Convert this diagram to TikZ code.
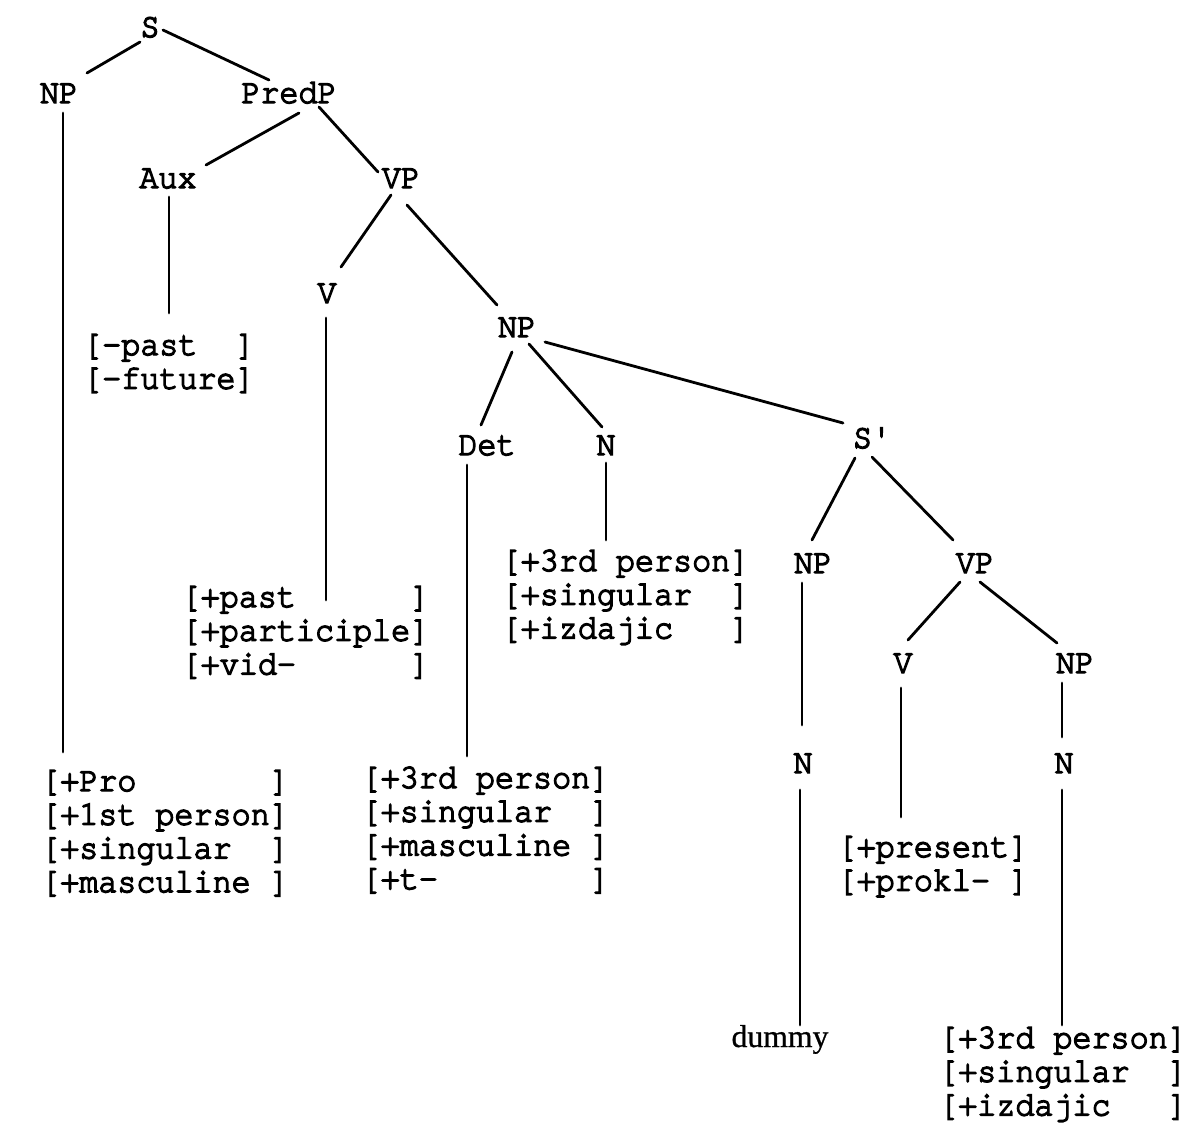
\documentclass[tikz,border=0pt]{standalone}
\usepackage{fontspec}
\setmonofont{texgyrecursor-regular.otf}[FakeBold=4, FakeStretch=0.92]
\newfontfamily\wordfont{Liberation Serif}[FakeBold=0.8]
\usetikzlibrary{calc}
% typewriter face used for all category labels and feature bundles
\newcommand\tw{\ttfamily\fontsize{34.5}{33.7}\selectfont}
% a feature bundle: rows stacked with the baseline of the first row as reference
\newcommand\featrows[1]{\vtop{\tw\lineskiplimit=-100pt #1}}
\newcommand\frow[1]{\hbox{#1}}

\begin{document}
\begin{tikzpicture}[x=1pt,y=-1pt,
  cat/.style={anchor=base, inner sep=0pt, font=\tw},
  feat/.style={anchor=base west, inner sep=0pt},
  branch/.style={line width=2.8pt, line cap=round}]
\useasboundingbox (0,0) rectangle (1189,1130);

% category labels
\node[cat] (s)     at (150,37)   {S};
\node[cat] (np1)   at (59,103)   {NP};
\node[cat] (predp) at (289,103)  {PredP};
\node[cat] (aux)   at (168,188)  {Aux};
\node[cat] (vp1)   at (401,188)  {VP};
\node[cat] (v1)    at (327,303)  {V};
\node[cat] (np2)   at (517,337)  {NP};
\node[cat] (det)   at (487,455)  {Det};
\node[cat] (n1)    at (606,455)  {N};
\node[cat] (sbar)  at (872,448)  {S'};
\node[cat] (np3)   at (813,573)  {NP};
\node[cat] (vp3)   at (975,573)  {VP};
\node[cat] (v3)    at (903,673)  {V};
\node[cat] (np4)   at (1075,673) {NP};
\node[cat] (n3)    at (803,773)  {N};
\node[cat] (n4)    at (1064,773) {N};
\node[anchor=base, inner sep=0pt, font=\wordfont\fontsize{31.7}{33.7}\selectfont] (dummy) at (780,1047) {dummy};

% feature bundles
\node[feat] (fAux) at (83,355) {\featrows{\frow{[-past~~]}\frow{[-future]}}};
\node[feat] (fV) at (181.5,607) {\featrows{\frow{[+past~~~~~~]}\frow{[+participle]}\frow{[+vid-~~~~~~]}}};
\node[feat] (fN) at (501.5,571) {\featrows{\frow{[+3rd person]}\frow{[+singular~~]}\frow{[+izdajic~~~]}}};
\node[feat] (fPro) at (41,791) {\featrows{\frow{[+Pro~~~~~~~]}\frow{[+1st person]}\frow{[+singular~~]}\frow{[+masculine~]}}};
\node[feat] (fDet) at (361.5,788) {\featrows{\frow{[+3rd person]}\frow{[+singular~~]}\frow{[+masculine~]}\frow{[+t-~~~~~~~~]}}};
\node[feat] (fPres) at (837.5,857) {\featrows{\frow{[+present]}\frow{[+prokl-~]}}};
\node[feat] (fObj) at (939,1048) {\featrows{\frow{[+3rd person]}\frow{[+singular~~]}\frow{[+izdajic~~~]}}};

% branches
\draw[branch] ($(s.base)+(-10,5)$) -- ($(np1.base)+(28,-30)$);
\draw[branch] ($(s.base)+(13,-7)$) -- ($(predp.base)+(-20,-23)$);
\draw[branch] ($(np1.base)+(4,10)$) -- ($(fPro.base west)+(22,-39)$);
\draw[branch] ($(predp.base)+(10,10)$) -- ($(aux.base)+(38,-23)$);
\draw[branch] ($(predp.base)+(30,4)$) -- ($(vp1.base)+(-23,-16)$);
\draw[branch] ($(aux.base)+(1,9)$) -- ($(fAux.base west)+(86,-42)$);
\draw[branch] ($(vp1.base)+(-10,7)$) -- ($(v1.base)+(14,-36)$);
\draw[branch] ($(vp1.base)+(6,17)$) -- ($(np2.base)+(-20,-32)$);
\draw[branch] ($(v1.base)+(-1,15)$) -- ($(fV.base west)+(144.5,-7)$);
\draw[branch] ($(np2.base)+(-5,15)$) -- ($(det.base)+(-6,-30)$);
\draw[branch] ($(np2.base)+(12,7)$) -- ($(n1.base)+(-4,-28)$);
\draw[branch] ($(np2.base)+(28,5)$) -- ($(sbar.base)+(-29,-25)$);
\draw[branch] ($(det.base)+(-20,10)$) -- ($(fDet.base west)+(105.5,-32)$);
\draw[branch] ($(n1.base)+(0,8)$) -- ($(fN.base west)+(104.5,-31)$);
\draw[branch] ($(sbar.base)+(-17,10)$) -- ($(np3.base)+(-1,-33)$);
\draw[branch] ($(sbar.base)+(0,9)$) -- ($(vp3.base)+(-22,-33)$);
\draw[branch] ($(np3.base)+(-11,10)$) -- ($(n3.base)+(-1,-48)$);
\draw[branch] ($(n3.base)+(-3,17)$) -- ($(dummy.base)+(20,-22)$);
\draw[branch] ($(vp3.base)+(-15,9)$) -- ($(v3.base)+(5,-33)$);
\draw[branch] ($(vp3.base)+(5,9)$) -- ($(np4.base)+(-18,-30)$);
\draw[branch] ($(v3.base)+(-2,15)$) -- ($(fPres.base west)+(63.5,-40)$);
\draw[branch] ($(np4.base)+(-13,10)$) -- ($(n4.base)+(-2,-36)$);
\draw[branch] ($(n4.base)+(-2,17)$) -- ($(fObj.base west)+(123,-23)$);
\end{tikzpicture}
\end{document}
